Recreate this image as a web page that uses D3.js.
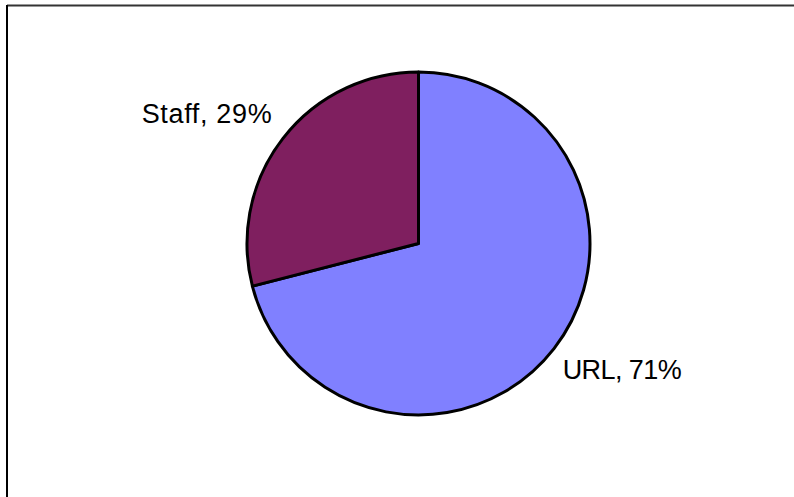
<!DOCTYPE html>
<html>
<head>
<meta charset="utf-8">
<script src="https://cdn.jsdelivr.net/npm/d3@7"></script>
<style>
  html, body { margin: 0; padding: 0; background: #fff; }
  svg { display: block; }
</style>
</head>
<body>
<svg id="chart" width="794" height="497"></svg>
<script>
const categories = ["URL", "Staff"];
const values = [71, 29];
const colors = ["#8080FF", "#7F1F5F"];

const svg = d3.select("#chart");
const W = 794, H = 497;

// frame (top and left edges visible)
svg.append("line").attr("x1", 7).attr("y1", 5.5).attr("x2", W).attr("y2", 5.5)
  .attr("stroke", "#333").attr("stroke-width", 2);
svg.append("line").attr("x1", 7).attr("y1", 5).attr("x2", 7).attr("y2", H)
  .attr("stroke", "#000").attr("stroke-width", 2);

const cx = 418.5, cy = 243.5, r = 171.5;
const data = categories.map((c, i) => ({ name: c, value: values[i], color: colors[i] }));

const pie = d3.pie().value(d => d.value).sort(null);
const arc = d3.arc().innerRadius(0).outerRadius(r);

const g = svg.append("g").attr("transform", `translate(${cx},${cy})`);
const arcs = pie(data);
g.selectAll("path").data(arcs).enter().append("path")
  .attr("d", arc)
  .attr("fill", d => d.data.color)
  .attr("stroke", "#000")
  .attr("stroke-width", 3)
  .attr("stroke-linejoin", "round");

const labelPos = {
  URL: { x: 562.7, y: 379, w: 119 },
  Staff: { x: 141.7, y: 122.7, w: 130 }
};
svg.selectAll("text.lbl").data(arcs).enter().append("text")
  .attr("class", "lbl")
  .attr("x", d => labelPos[d.data.name].x)
  .attr("y", d => labelPos[d.data.name].y)
  .attr("textLength", d => labelPos[d.data.name].w)
  .attr("lengthAdjust", "spacing")
  .attr("font-family", "Liberation Sans, Arial, sans-serif")
  .attr("font-size", "27px")
  .attr("fill", "#000")
  .text(d => `${d.data.name}, ${d.data.value}%`);
</script>
</body>
</html>
